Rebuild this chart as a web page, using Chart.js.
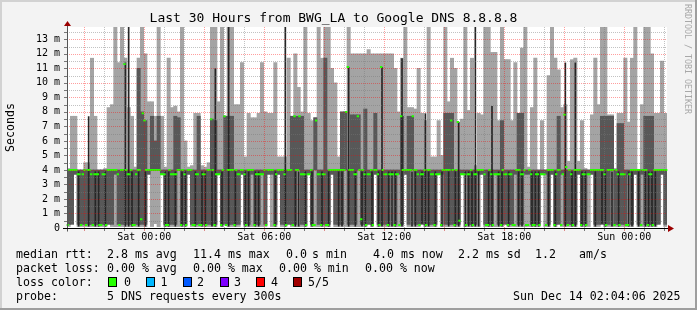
<!DOCTYPE html>
<html><head><meta charset="utf-8">
<script src="https://cdn.jsdelivr.net/npm/chart.js@4.4.1/dist/chart.umd.min.js"></script>
<style>
html,body{margin:0;padding:0;background:#f3f3f3;}
#wrap{position:relative;width:697px;height:310px;overflow:hidden;font-family:"DejaVu Sans Mono",monospace;}
#c{position:absolute;left:0;top:0;}
.t{position:absolute;white-space:pre;font-size:11.6px;line-height:14px;color:#000;}
.box{position:absolute;width:7px;height:8px;border:1px solid #000;}
#side{position:absolute;left:683px;top:4px;writing-mode:vertical-rl;font-size:8.3px;color:#a8a8a8;white-space:pre;line-height:10px;}
</style></head><body>
<div id="wrap">
<canvas id="c" width="697" height="310"></canvas>
<div id="side">RRDTOOL / TOBI OETIKER</div>
<div id="foot"></div>
</div>
<script>
// ---- data (milliseconds), one smoke column per 10 minutes, median per 5-minute probe ----
const lightHi = [
4.1,7.7,7.7,4.0,4.0,4.5,4.5,11.7,7.7,4.0,
4.0,4.1,8.3,8.5,14,11.4,14,11.7,8.3,7.7,
4.2,11.7,14,12.0,8.7,8.7,7.7,14,7.7,4.2,
11.7,8.3,8.4,8.0,14,6.0,4.2,4.3,7.9,7.9,
4.3,4.2,4.5,14,14,8.7,14,7.7,14,14,
8.5,8.5,11.4,4.9,7.9,7.6,7.6,7.9,11.4,8.0,
7.9,7.9,11.4,4.9,4.9,4.9,11.7,7.7,12.0,9.7,
8.0,14,7.9,7.4,7.6,14,11.7,14,14,11.0,
10.0,4.9,8.0,8.0,14,12.0,12.0,12.0,12.0,12.0,
12.3,12.0,12.0,12.0,12.0,12.0,12.0,12.0,11.0,8.0,
11.7,14,8.3,8.3,8.2,11.0,7.9,7.4,14,4.9,
4.9,7.4,5.0,14,8.7,11.7,11.0,7.3,7.5,14,
8.1,11.7,4.3,7.9,7.8,14,14,12.1,12.1,7.4,
14,11.6,11.6,7.4,11.4,7.9,12.4,14,4.2,8.3,
11.7,4.0,7.4,4.0,10.5,14,11.7,10.9,8.3,8.5,
4.6,11.6,11.7,4.6,7.4,4.1,4.0,7.8,11.7,8.5,
14,14,7.8,7.8,4.1,7.9,7.9,11.7,7.3,11.7,
14,4.0,8.5,14,14,12.0,7.9,7.9,11.5,7.9];
const lightLo = [
0.1,0.3,3.7,0.1,0.1,0.1,0.1,0.1,0.1,0.1,
0.1,0.1,0.3,0.1,0.1,0.1,0.1,0.1,0.1,0.1,
0.1,0.1,0.1,0.1,3.7,0.1,0.3,0.1,3.7,0.1,
0.1,0.1,0.1,0.1,0.1,0.1,3.7,0.1,0.1,0.1,
0.1,0.1,0.1,0.1,0.1,3.7,0.1,0.3,0.1,0.1,
0.1,0.1,3.7,0.1,0.1,0.1,0.1,0.1,0.1,0.1,
3.7,0.1,0.1,3.7,0.1,0.1,0.3,0.1,0.1,0.1,
0.1,0.1,3.7,0.1,0.1,0.1,0.1,0.1,0.1,3.7,
0.1,0.1,0.1,0.1,0.1,0.1,0.1,0.1,0.1,0.1,
0.3,0.1,3.7,0.1,0.1,0.1,0.1,0.1,0.1,0.1,
0.1,3.7,0.1,0.1,0.1,0.1,0.3,0.1,0.1,0.1,
0.1,3.7,0.1,0.1,0.1,0.1,0.1,0.1,3.7,0.1,
0.1,0.1,0.1,0.1,3.7,0.1,0.1,0.1,0.1,0.1,
0.1,0.3,0.1,0.1,0.1,0.1,0.1,0.1,0.1,0.1,
0.1,0.1,3.7,0.1,0.1,3.7,0.1,0.3,0.1,0.1,
0.1,0.1,0.1,3.7,0.1,0.1,0.1,3.7,0.1,0.1,
0.3,0.1,0.1,0.1,0.1,0.1,0.1,0.1,0.1,0.1,
3.7,0.1,0.1,0.1,0.1,0.1,0.1,0.3,3.7,0.1];
const darkHi = [
4.0,4.0,4.0,4.0,4.0,4.0,4.0,4.0,4.0,4.0,
4.0,4.0,4.0,4.0,4.0,4.0,4.0,4.0,4.0,4.0,
4.0,11.0,8.0,7.4,4.0,7.7,6.0,7.7,4.0,4.0,
4.0,4.0,7.7,7.6,4.0,4.0,4.0,4.0,4.0,7.7,
4.0,4.0,4.0,7.5,7.4,4.0,4.0,7.7,7.7,7.7,
4.0,4.0,4.0,4.0,4.0,4.0,4.0,4.0,4.0,4.0,
4.0,4.0,4.0,4.0,4.0,4.0,4.0,7.7,7.7,7.7,
7.7,4.0,4.0,4.0,7.6,4.0,4.0,11.7,4.0,4.0,
4.0,4.0,8.0,8.0,4.0,7.8,7.8,7.8,4.0,8.2,
4.0,4.0,7.9,4.0,4.0,4.0,4.0,4.0,4.0,4.0,
7.7,4.0,7.7,7.7,4.0,4.0,4.0,4.0,4.0,4.0,
4.0,4.0,4.0,7.9,7.9,7.9,4.0,4.0,4.0,4.0,
4.0,4.0,4.0,4.0,4.0,4.0,4.0,4.0,4.0,4.0,
7.4,4.0,4.0,4.0,4.0,7.9,7.9,4.0,4.0,4.0,
4.0,4.0,4.0,4.0,4.0,4.0,4.0,7.7,4.0,4.0,
4.0,4.0,4.0,4.0,4.0,4.0,4.0,4.0,4.0,4.0,
7.7,7.7,7.7,7.7,4.0,7.2,7.2,4.0,4.0,4.0,
4.0,4.0,4.0,7.7,7.7,7.7,4.0,4.0,4.0,4.0];
const darkLo = [
0.25,0.25,3.7,0.25,0.25,0.25,0.25,0.25,0.25,0.25,
0.25,0.25,0.25,0.25,3.7,0.25,0.25,0.25,0.25,0.25,
0.25,0.25,0.25,0.25,3.7,4.0,4.0,4.0,3.7,0.25,
0.25,0.25,0.25,4.0,0.25,0.25,3.7,0.25,0.25,0.25,
0.25,0.25,0.25,0.25,0.25,3.7,0.25,0.25,0.25,0.25,
0.25,0.25,3.7,0.25,0.25,3.7,0.25,0.25,3.7,0.25,
3.7,3.7,0.25,3.7,0.25,0.25,0.25,0.25,0.25,4.0,
0.25,0.25,3.7,0.25,4.0,0.25,0.25,0.25,0.25,3.7,
0.25,0.25,0.25,4.0,0.25,0.25,0.25,4.0,0.25,0.25,
0.25,0.25,3.7,0.25,0.25,0.25,0.25,3.7,0.25,3.7,
0.25,3.7,0.25,4.0,0.25,0.25,0.25,0.25,0.25,0.25,
0.25,3.7,3.7,0.25,0.25,0.25,0.25,0.25,3.7,3.7,
0.25,0.25,0.25,3.7,3.7,0.25,0.25,0.25,3.7,0.25,
0.25,0.25,0.25,0.25,3.7,0.25,0.25,3.7,3.7,0.25,
0.25,0.25,3.7,3.7,0.25,3.7,0.25,0.25,3.7,0.25,
0.25,0.25,0.25,3.7,0.25,0.25,3.7,3.7,0.25,0.25,
0.25,0.25,0.25,4.0,0.25,0.25,0.25,0.25,3.7,0.25,
3.7,0.25,3.7,0.25,0.25,0.25,0.25,0.25,3.7,0.25];
const inkHi = [
0,0,0,3.9,0,0,7.7,0,3.9,3.9,
0,3.9,0,0,0,0,0,11.4,14,3.9,
0,3.9,0,3.9,0,0,0,0,0,3.9,
3.9,0,3.9,0,3.9,3.9,0,0,3.9,0,
3.9,3.9,0,3.9,11.0,0,3.9,0,14,0,
3.9,0,0,3.9,3.9,0,3.9,3.9,0,0,
0,0,3.9,0,0,14,0,0,3.9,3.9,
0,3.9,0,3.9,0,0,3.9,0,3.9,0,
0,3.9,3.9,0,11.1,0,3.9,0,3.9,3.9,
0,3.9,0,3.9,11.1,0,3.9,3.9,3.9,0,
11.7,0,0,3.9,3.9,0,3.9,7.9,3.9,0,
3.9,0,3.9,0,3.9,0,3.9,7.3,0,3.9,
3.9,3.9,14,3.9,0,0,3.9,8.4,0,3.9,
3.9,0,3.9,0,0,3.9,3.9,0,0,3.9,
3.9,3.9,0,0,3.9,0,3.9,0,0,11.4,
0,3.9,11.4,0,3.9,3.9,0,0,3.9,0,
3.9,3.9,0,3.9,0,3.9,0,0,3.9,3.9,
0,3.9,0,3.9,3.9,3.9,3.9,0,0,0];
const median = [
0.2,4.0, 4.0,4.0, 4.0,4.0, 3.7,3.7, 0.2,3.7, 4.0,0.2, 4.0,4.0, 3.7,0.2, 3.7,3.7, 3.7,0.2,
0.2,3.7, 3.7,0.2, 4.0,4.0, 4.0,4.0, 4.0,4.0, 3.7,0.2, 4.0,4.0, 11.3,4.0, 3.7,3.7, 4.0,0.2,
0.2,3.7, 4.0,4.0, 0.6,7.9, 7.4,4.0, 4.0,4.0, 4.0,4.0, 4.0,4.0, 4.0,4.0, 3.7,3.7, 3.7,0.2,
0.2,4.0, 3.7,3.7, 3.7,3.7, 4.0,4.0, 0.2,4.0, 3.7,0.2, 4.0,4.0, 4.0,0.2, 0.2,3.7, 3.7,0.2,
0.2,3.7, 3.7,0.2, 4.0,4.0, 7.5,4.0, 0.2,3.7, 3.7,3.7, 0.2,4.0, 7.7,0.2, 4.0,4.0, 4.0,4.0,
0.2,4.0, 3.7,3.7, 4.0,4.0, 3.7,0.2, 4.0,4.0, 4.0,4.0, 0.2,3.7, 3.7,3.7, 3.7,3.7, 4.0,0.2,
4.0,4.0, 4.0,4.0, 0.2,3.7, 4.0,4.0, 4.0,4.0, 3.7,0.2, 4.0,4.0, 4.0,0.2, 7.7,4.0, 4.0,7.7,
3.7,3.7, 3.7,0.2, 3.7,3.7, 4.0,0.2, 0.2,7.4, 3.7,3.7, 0.2,3.7, 3.7,0.2, 0.2,4.0, 4.0,4.0,
4.0,4.0, 4.0,4.0, 4.0,4.0, 4.0,8.0, 11.1,4.0, 4.0,4.0, 3.7,3.7, 7.7,4.0, 0.6,4.0, 3.7,0.2,
3.7,3.7, 4.0,0.2, 4.0,4.0, 3.7,0.2, 11.1,4.0, 3.7,3.7, 0.2,3.7, 3.7,3.7, 0.2,3.7, 3.7,0.2,
7.7,4.0, 4.0,4.0, 4.0,4.0, 4.0,7.7, 4.0,4.0, 3.7,0.2, 3.7,3.7, 4.0,0.2, 4.0,4.0, 3.7,3.7,
0.2,3.7, 3.7,3.7, 0.2,4.0, 4.0,4.0, 4.0,4.0, 7.4,4.0, 0.2,4.0, 7.3,0.5, 3.7,3.7, 3.7,0.2,
3.7,3.7, 4.0,0.2, 3.7,3.7, 4.0,4.0, 4.0,4.0, 3.7,0.2, 0.2,4.0, 3.7,0.2, 3.7,3.7, 3.7,3.7,
0.2,4.0, 3.7,3.7, 0.2,3.7, 3.7,0.2, 0.2,4.0, 4.0,4.0, 3.7,3.7, 4.0,0.2, 0.2,4.0, 3.7,0.2,
0.2,3.7, 3.7,0.2, 3.7,3.7, 3.7,0.2, 4.0,4.0, 4.0,4.0, 0.2,3.7, 4.0,4.0, 0.2,3.7, 7.8,4.2,
0.2,4.0, 3.7,0.2, 4.0,4.0, 4.0,4.0, 0.2,3.7, 3.7,0.2, 3.7,3.7, 4.0,4.0, 4.0,4.0, 4.0,4.0,
4.0,4.0, 3.7,0.2, 4.0,4.0, 4.0,4.0, 0.2,4.0, 3.7,0.2, 3.7,3.7, 3.7,0.2, 0.2,3.7, 4.0,4.0,
4.0,4.0, 4.0,4.0, 0.2,4.0, 4.0,4.0, 0.2,3.7, 3.7,0.2, 4.0,4.0, 4.0,4.0, 4.0,4.0, 4.0,4.0];
const yTickValues = [0,1,2,3,4,5,6,7,8,9,10,11,12,13];
const yTickLabels = ['0','1 m','2 m','3 m','4 m','5 m','6 m','7 m','8 m','9 m','10 m','11 m','12 m','13 m'];
const xTickHours = [3.865, 9.865, 15.865, 21.865, 27.865];   // hours since start of the 30 h window
const xTickLabels = ['Sat 00:00','Sat 06:00','Sat 12:00','Sat 18:00','Sun 00:00'];
const firstFullHour = 0.865;   // Fri 21:00
const lossLabels = ['0','1','2','3','4','5/5'];
const lossColors = ['#26ff00','#00b8ff','#0059ff','#7e00ff','#ff0000','#a10000'];

// ---- footer (legend) text ----
const footRows = [
  [[16,'median rtt:'],[107,'2.8 ms avg'],[193,'11.4 ms max'],[286,'0.0'],[312,'s min'],[373,'4.0 ms now'],[458,'2.2 ms sd'],[535,'1.2'],[579,'am/s']],
  [[16,'packet loss:'],[107,'0.00 % avg'],[193,'0.00 % max'],[279,'0.00 % min'],[365,'0.00 % now']],
  [[16,'loss color:']],
  [[16,'probe:'],[107,'5 DNS requests every 300s'],[513,'Sun Dec 14 02:04:06 2025']]
];
const rowTops = [247,261,275,289];
const foot = document.getElementById('foot');
footRows.forEach((row,r)=>row.forEach(([x,s])=>{
  const d=document.createElement('div'); d.className='t'; d.style.left=x+'px'; d.style.top=rowTops[r]+'px'; d.textContent=s; foot.appendChild(d);
}));
const boxX=[108,145.5,182.5,219.5,256,293], labX=[124,160.5,197,234,271,308];
lossLabels.forEach((l,i)=>{
  const b=document.createElement('div'); b.className='box'; b.style.left=boxX[i]+'px'; b.style.top='277px'; b.style.background=lossColors[i]; foot.appendChild(b);
  const d=document.createElement('div'); d.className='t'; d.style.left=labX[i]+'px'; d.style.top=rowTops[2]+'px'; d.textContent=l; foot.appendChild(d);
});

// ---- chart ----
const binLabels = lightHi.map((_,i)=>'b'+i);
const sampleLabels = median.map((_,i)=>'s'+i);
const minorC='rgba(120,120,120,0.45)', majorC='rgba(255,0,0,0.38)';

const rrd = {
  id:'rrd',
  beforeDraw(chart){
    const {ctx, chartArea:a} = chart;
    ctx.save();
    ctx.fillStyle='#f3f3f3'; ctx.fillRect(0,0,697,310);
    ctx.fillStyle='#d2d2d2'; ctx.fillRect(0,0,697,2); ctx.fillRect(0,0,2,310);
    ctx.fillStyle='#9e9e9e'; ctx.fillRect(0,308,697,2); ctx.fillRect(695,0,2,310);
    ctx.fillStyle='#ffffff'; ctx.fillRect(a.left,a.top,a.right-a.left,a.bottom-a.top);
    ctx.restore();
  },
  afterDatasetsDraw(chart){
    const {ctx, chartArea:a, scales} = chart;
    const xs=scales.xt, ys=scales.y;
    ctx.save();
    ctx.lineWidth=1;
    const line=(x1,y1,x2,y2,c)=>{ctx.strokeStyle=c;ctx.beginPath();ctx.moveTo(x1,y1);ctx.lineTo(x2,y2);ctx.stroke();};
    ctx.setLineDash([1,1]);
    for(let k=1;k<=27;k++){
      const y=Math.round(ys.getPixelForValue(k/2))+0.5;
      if(y<a.top) continue;
      line(a.left,y,a.right,y,(k%2)?minorC:majorC);
    }
    for(let k=0;k<30;k++){
      const t=firstFullHour+k; if(t>xs.max) break;
      const x=Math.round(xs.getPixelForValue(t))+0.5;
      line(x,a.top,x,a.bottom,(k%3)?minorC:majorC);
    }
    ctx.setLineDash([]);
    for(let k=1;k<=27;k++){
      const y=Math.round(ys.getPixelForValue(k/2))+0.5;
      if(y<a.top) continue;
      line(a.left-3,y,a.left,y,'#777');
    }
    for(let k=0;k<30;k++){
      const t=firstFullHour+k; if(t>xs.max) break;
      const x=Math.round(xs.getPixelForValue(t))+0.5;
      line(x,a.bottom,x,a.bottom+3,(k%3)?'#777':'#d88');
    }
    const x0=Math.round(a.left)+0.5, y0=Math.round(a.bottom)+0.5;
    line(x0,a.top-2,x0,y0+3,'#555');
    line(a.left-4,y0,a.right+1,y0,'#000');
    ctx.fillStyle='#9b0000';
    ctx.beginPath(); ctx.moveTo(x0-3.5,a.top-1); ctx.lineTo(x0+3.5,a.top-1); ctx.lineTo(x0,a.top-6); ctx.closePath(); ctx.fill();
    ctx.beginPath(); ctx.moveTo(a.right+1,y0-3.5); ctx.lineTo(a.right+1,y0+3.5); ctx.lineTo(a.right+7,y0); ctx.closePath(); ctx.fill();
    ctx.restore();
  }
};

new Chart(document.getElementById('c'), {
  type:'bar',
  data:{
    labels: binLabels,
    datasets:[
      {type:'line', label:'median', xAxisID:'x2', yAxisID:'y', data: median, showLine:false,
       pointStyle:'line', pointRadius:1.2, pointHoverRadius:1.2, pointBorderWidth:2, pointBorderColor:'#26ff00', pointBackgroundColor:'#26ff00', order:1},
      {label:'ink', xAxisID:'x', yAxisID:'y', data: inkHi.map((v,i)=> v ? [lightLo[i], v] : null),
       backgroundColor:'#262626', barPercentage:0.5, categoryPercentage:1, grouped:false, order:2},
      {label:'p2-p4', xAxisID:'x', yAxisID:'y', data: darkLo.map((v,i)=>[v, darkHi[i]]),
       backgroundColor:'#585858', barPercentage:1, categoryPercentage:1, grouped:false, order:3},
      {label:'p1-p5', xAxisID:'x', yAxisID:'y', data: lightLo.map((v,i)=>[v, lightHi[i]]),
       backgroundColor:'#a4a4a4', barPercentage:1, categoryPercentage:1, grouped:false, order:4}
    ]
  },
  options:{
    responsive:false, animation:false, devicePixelRatio:1,
    layout:{padding:{left:0,right:30,top:0,bottom:0}},
    plugins:{
      legend:{display:false}, tooltip:{enabled:false},
      title:{display:true, text:'Last 30 Hours from BWG_LA to Google DNS 8.8.8.8', color:'#000',
        font:{family:'DejaVu Sans Mono', size:13, weight:'normal'}, padding:{top:11,bottom:0.4}}
    },
    scales:{
      x:{type:'category', display:false, offset:true},
      x2:{type:'category', labels: sampleLabels, display:false, offset:true},
      xt:{type:'linear', position:'bottom', min:0, max:30, offset:false,
        grid:{display:false, drawTicks:false, offset:false}, border:{display:false},
        afterBuildTicks:(s)=>{ s.ticks = xTickHours.map(v=>({value:v})); },
        afterFit:(s)=>{ s.height = 82; },
        ticks:{autoSkip:false, maxRotation:0, padding:3, color:'#000',
          font:{family:'DejaVu Sans Mono', size:10},
          callback:(v,i)=>xTickLabels[i]}},
      y:{type:'linear', position:'left', min:0, max:13.85, offset:false,
        grid:{display:false, drawTicks:false}, border:{display:false},
        afterBuildTicks:(s)=>{ s.ticks = yTickValues.map(v=>({value:v})); },
        afterFit:(s)=>{ s.width = 67; },
        ticks:{autoSkip:false, padding:7, color:'#000', font:{family:'DejaVu Sans Mono', size:10},
          callback:(v,i)=>yTickLabels[i]},
        title:{display:true, text:'Seconds', color:'#000', font:{family:'DejaVu Sans Mono', size:11.6}, padding:{top:4,bottom:0}}}
    }
  },
  plugins:[rrd]
});
</script>
</body></html>
